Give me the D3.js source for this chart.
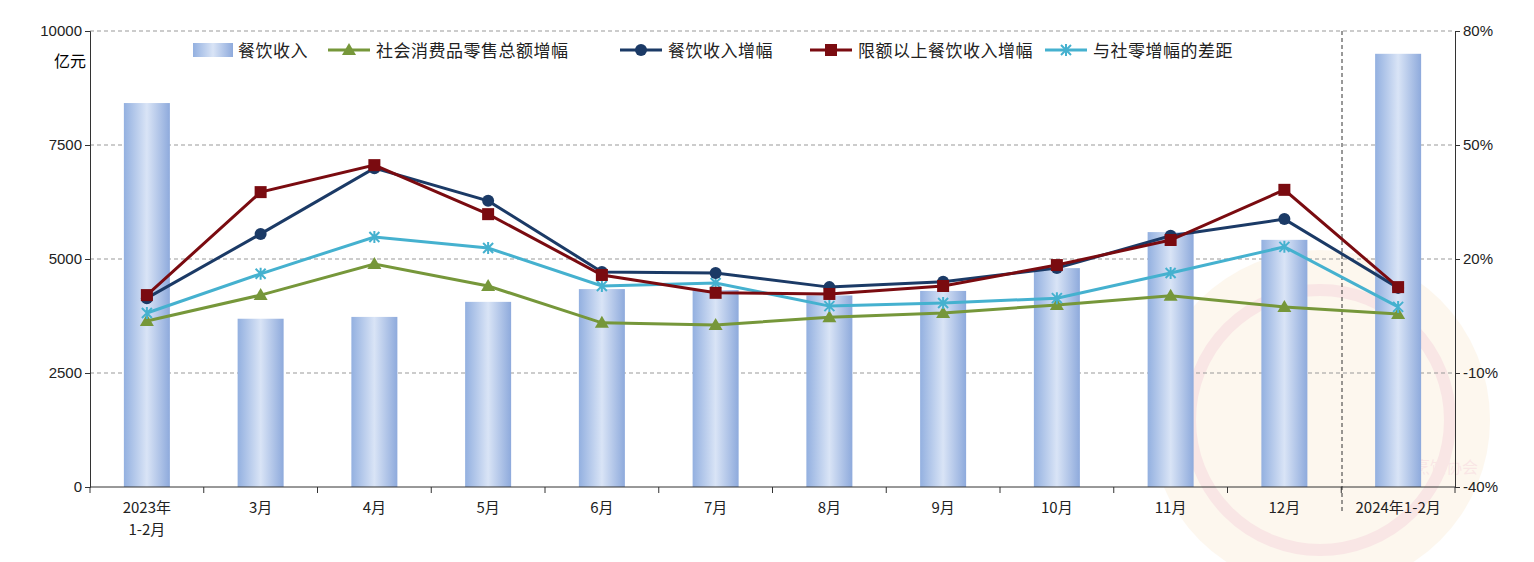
<!DOCTYPE html>
<html><head><meta charset="utf-8">
<script src="https://cdn.jsdelivr.net/npm/d3@7"></script>
<style>body{margin:0;background:#fff;font-family:"Noto Sans CJK SC",sans-serif}</style>
</head><body><svg id="c" width="1534" height="562"></svg>
<script>
const categories = ['2023年\n1-2月','3月','4月','5月','6月','7月','8月','9月','10月','11月','12月','2024年1-2月']
const revenue = [8420, 3690, 3730, 4060, 4340, 4320, 4200, 4300, 4800, 5590, 5420, 9500]
const retailGrowth = [3.7, 10.5, 18.7, 12.9, 3.2, 2.6, 4.7, 5.8, 7.9, 10.3, 7.4, 5.5]
const revenueGrowth = [9.7, 26.6, 43.9, 35.3, 16.6, 16.3, 12.6, 14.0, 17.6, 26.1, 30.5, 12.4]
const aboveGrowth = [10.5, 37.6, 44.7, 31.8, 15.8, 11.1, 10.8, 12.9, 18.4, 25.0, 38.2, 12.6]
const gapGrowth = [5.8, 16.1, 25.8, 22.9, 12.9, 13.7, 7.6, 8.4, 9.7, 16.3, 23.2, 7.4]
const leftTicks = [0, 2500, 5000, 7500, 10000]
const rightTicks = [-40, -10, 20, 50, 80]

const svg = d3.select('#c')
const L = 90, R = 1455, T = 31, B = 487
const x = d3.scaleBand().domain(categories).range([L, R])
const yL = d3.scaleLinear().domain([0, 10000]).range([B, T])
const yR = d3.scaleLinear().domain([-40, 80]).range([B, T])

// gradient for bars
const g = svg.append('defs').append('linearGradient').attr('id', 'bg')
g.append('stop').attr('offset', '0%').attr('stop-color', '#93b0e0')
g.append('stop').attr('offset', '50%').attr('stop-color', '#d9e4f6')
g.append('stop').attr('offset', '100%').attr('stop-color', '#8eaadc')

// watermark
const wm = svg.append('g').attr('opacity', 0.14)
wm.append('circle').attr('cx', 1320).attr('cy', 420).attr('r', 170).attr('fill', '#f3c98a')
wm.append('circle').attr('cx', 1320).attr('cy', 420).attr('r', 130).attr('fill', 'none').attr('stroke', '#d9534f').attr('stroke-width', 12)
wm.append('text').attr('x', 1430).attr('y', 473).attr('text-anchor', 'middle').attr('font-size', 16).attr('fill', '#d9534f').text('中国烹饪协会')

// grid
svg.append('g').selectAll('line').data(leftTicks.slice(1)).join('line')
    .attr('x1', L).attr('x2', R).attr('y1', d => yL(d)).attr('y2', d => yL(d))
    .attr('stroke', '#999').attr('stroke-dasharray', '4,3')
svg.append('line').attr('x1', 1342).attr('x2', 1342).attr('y1', T).attr('y2', B + 25)
    .attr('stroke', '#333').attr('stroke-dasharray', '4,3')

// bars
const bw = 46
svg.append('g').selectAll('rect').data(revenue).join('rect')
    .attr('x', (d, i) => x(categories[i]) + x.bandwidth() / 2 - bw / 2)
    .attr('width', bw).attr('y', d => yL(d)).attr('height', d => B - yL(d))
    .attr('fill', 'url(#bg)')

// axes
const left = svg.append('g').attr('transform', `translate(${L},0)`)
    .call(d3.axisLeft(yL).tickValues(leftTicks).tickSize(5).tickFormat(d3.format('d')))
const right = svg.append('g').attr('transform', `translate(${R},0)`)
    .call(d3.axisRight(yR).tickValues(rightTicks).tickSize(5).tickFormat(d => d + '%'))
;[left, right].forEach(a => {
    a.selectAll('text').attr('font-size', 15).attr('fill', '#222').attr('font-family', 'Liberation Sans, sans-serif')
    a.selectAll('line,path').attr('stroke', '#333')
})
svg.append('text').attr('x', 70).attr('y', 67).attr('text-anchor', 'middle').attr('font-size', 16).text('亿元')

const xa = svg.append('g')
xa.append('line').attr('x1', L).attr('x2', R).attr('y1', B).attr('y2', B).attr('stroke', '#333')
xa.selectAll('.tk').data(d3.range(categories.length + 1)).join('line')
    .attr('x1', i => L + i * x.step()).attr('x2', i => L + i * x.step())
    .attr('y1', B).attr('y2', B + 6).attr('stroke', '#333')
categories.forEach(c => {
    const t = xa.append('text').attr('x', x(c) + x.bandwidth() / 2).attr('y', B + 26)
        .attr('text-anchor', 'middle').attr('font-size', 15).attr('fill', '#222')
    c.split('\n').forEach((s, k) => t.append('tspan').attr('x', x(c) + x.bandwidth() / 2).attr('dy', k ? 22 : 0).text(s))
})

// lines
const cx = i => x(categories[i]) + x.bandwidth() / 2
const series = [
    { name: '社会消费品零售总额增幅', vals: retailGrowth, color: '#76973a', mark: 'tri' },
    { name: '餐饮收入增幅', vals: revenueGrowth, color: '#1b3a66', mark: 'circ' },
    { name: '限额以上餐饮收入增幅', vals: aboveGrowth, color: '#7a0b10', mark: 'sq' },
    { name: '与社零增幅的差距', vals: gapGrowth, color: '#45b1cf', mark: 'star' }
]
const drawMark = (sel, m, color) => {
    if (m === 'circ') sel.append('circle').attr('r', 6).attr('fill', color)
    if (m === 'sq') sel.append('rect').attr('x', -6).attr('y', -6).attr('width', 12).attr('height', 12).attr('fill', color)
    if (m === 'tri') sel.append('path').attr('d', 'M0,-7L7,5L-7,5Z').attr('fill', color)
    if (m === 'star') sel.append('path').attr('d', 'M-5,-5L5,5M-5,5L5,-5M0,-6L0,6').attr('stroke', color).attr('stroke-width', 2)
}
const order = [series[0], series[3], series[1], series[2]]
order.forEach(s => {
    svg.append('path').datum(s.vals)
        .attr('d', d3.line().x((d, i) => cx(i)).y(d => yR(d)))
        .attr('fill', 'none').attr('stroke', s.color).attr('stroke-width', 3)
    s.vals.forEach((v, i) => {
        drawMark(svg.append('g').attr('transform', `translate(${cx(i)},${yR(v)})`), s.mark, s.color)
    })
})

// legend
const lg = svg.append('g').attr('font-size', 17).attr('letter-spacing', 0.5).attr('fill', '#222')
lg.append('rect').attr('x', 193).attr('y', 43).attr('width', 40).attr('height', 14).attr('fill', 'url(#bg)')
lg.append('text').attr('x', 238).attr('y', 57).text('餐饮收入')
const lx = [328, 620, 810, 1045]
series.forEach((s, k) => {
    lg.append('line').attr('x1', lx[k]).attr('x2', lx[k] + 42).attr('y1', 50).attr('y2', 50)
        .attr('stroke', s.color).attr('stroke-width', 3)
    drawMark(lg.append('g').attr('transform', `translate(${lx[k] + 21},50)`), s.mark, s.color)
    lg.append('text').attr('x', lx[k] + 48).attr('y', 57).text(s.name)
})
</script></body></html>
